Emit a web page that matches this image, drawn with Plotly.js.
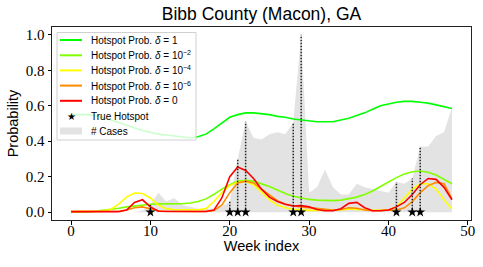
<!DOCTYPE html>
<html>
<head>
<meta charset="utf-8">
<script src="https://cdn.plot.ly/plotly-3.0.1.min.js"></script>
<style>html,body{margin:0;padding:0;background:#fff;}#chart{width:483px;height:267px;}</style>
</head>
<body>
<div id="chart"></div>
<script>
const weeks = Array.from({length: 49}, (_, i) => i);
const cases = [0,0,0,0,0,0,0,0,0,0.01,0.04,0.11,0.06,0.08,0.04,0.03,0.02,0.02,0.02,0.03,0.06,0.30,0.51,0.42,0.41,0.44,0.45,0.44,0.505,1.0,0.11,0.14,0.24,0.14,0.10,0.10,0.16,0.14,0.13,0.12,0.11,0.17,0.16,0.19,0.37,0.37,0.43,0.45,0.59];
const probDelta1 = [0.55,0.55,0.55,0.545,0.535,0.52,0.505,0.49,0.475,0.46,0.45,0.44,0.435,0.43,0.425,0.42,0.425,0.44,0.47,0.505,0.535,0.55,0.56,0.56,0.555,0.55,0.54,0.535,0.525,0.52,0.515,0.51,0.51,0.51,0.52,0.53,0.545,0.56,0.58,0.60,0.61,0.62,0.625,0.625,0.62,0.615,0.605,0.595,0.585];
const probDelta1e2 = [0.0,0.0,0.002,0.005,0.01,0.015,0.022,0.03,0.035,0.042,0.045,0.047,0.047,0.047,0.048,0.052,0.06,0.075,0.10,0.13,0.155,0.175,0.18,0.175,0.16,0.145,0.125,0.105,0.09,0.08,0.072,0.068,0.065,0.065,0.068,0.075,0.085,0.10,0.12,0.145,0.17,0.195,0.215,0.228,0.232,0.225,0.21,0.185,0.16];
const probDelta1e4 = [0.005,0.005,0.005,0.005,0.006,0.015,0.045,0.085,0.108,0.105,0.08,0.04,0.02,0.015,0.013,0.013,0.013,0.02,0.06,0.11,0.15,0.17,0.175,0.155,0.11,0.07,0.04,0.025,0.016,0.012,0.01,0.01,0.01,0.01,0.012,0.018,0.015,0.012,0.011,0.011,0.013,0.03,0.08,0.13,0.16,0.16,0.13,0.07,0.018];
const probDelta1e6 = [0.003,0.003,0.003,0.003,0.003,0.003,0.005,0.012,0.025,0.03,0.02,0.008,0.004,0.004,0.004,0.004,0.004,0.004,0.01,0.04,0.11,0.165,0.175,0.165,0.13,0.095,0.065,0.045,0.035,0.03,0.025,0.018,0.013,0.012,0.015,0.025,0.022,0.012,0.008,0.008,0.01,0.012,0.025,0.06,0.11,0.15,0.168,0.16,0.075];
const probDelta0 = [0.003,0.003,0.003,0.003,0.003,0.003,0.003,0.012,0.055,0.07,0.03,0.005,0.004,0.004,0.004,0.004,0.004,0.004,0.012,0.08,0.2,0.255,0.235,0.19,0.13,0.085,0.06,0.045,0.035,0.037,0.03,0.015,0.008,0.008,0.02,0.05,0.055,0.025,0.008,0.008,0.012,0.03,0.055,0.1,0.155,0.19,0.185,0.14,0.07];
const hotspotWeeks = [10,20,21,22,28,29,41,43,44];
const yTicks = [0,0.2,0.4,0.6,0.8,1.0];
const xTicks = [0,10,20,30,40,50];
const seriesNames = ['Hotspot Prob. <i>δ</i> = 1',
  'Hotspot Prob. <i>δ</i> = 10<sup>−2</sup>',
  'Hotspot Prob. <i>δ</i> = 10<sup>−4</sup>',
  'Hotspot Prob. <i>δ</i> = 10<sup>−6</sup>',
  'Hotspot Prob. <i>δ</i> = 0'];
const colors = ['#00ff00','#80ff00','#ffff00','#ff8c00','#ff0000'];
const probSeries = [probDelta1, probDelta1e2, probDelta1e4, probDelta1e6, probDelta0];

const traces = [];
traces.push({x: weeks, y: cases, type: 'scatter', mode: 'lines', fill: 'tozeroy',
  fillcolor: '#e3e3e3', line: {width: 0, color: '#e3e3e3'}, showlegend: false, hoverinfo: 'skip'});
probSeries.forEach((s, i) => traces.push({x: weeks, y: s, type: 'scatter', mode: 'lines',
  line: {color: colors[i], width: 1.6}, showlegend: false}));
const dx = [], dy = [];
hotspotWeeks.forEach(w => { dx.push(w, w, null); dy.push(0, cases[w], null); });
traces.push({x: dx, y: dy, type: 'scatter', mode: 'lines', line: {color: '#222', width: 1.5, dash: '1.5px,1.5px'}, showlegend: false});
traces.push({x: hotspotWeeks, y: hotspotWeeks.map(() => 0), type: 'scatter', mode: 'markers',
  marker: {symbol: 'star', size: 7.5, color: '#000'}, showlegend: false});

// manual legend (paper coordinates)
const W = 419, H = 193, L = 52, B = 220;
const px = v => (v - L) / W, py = v => (B - v) / H;
const rowsY = [40, 55.3, 70.4, 85.6, 100.8, 116, 131];
const shapes = [{type: 'rect', xref: 'paper', yref: 'paper', x0: px(57), x1: px(196), y0: py(140), y1: py(32.5),
  fillcolor: 'rgba(255,255,255,0.8)', line: {color: '#d0d0d0', width: 1}, layer: 'above'}];
const annotations = [];
colors.forEach((c, i) => {
  shapes.push({type: 'line', xref: 'paper', yref: 'paper', x0: px(60), x1: px(82), y0: py(rowsY[i]), y1: py(rowsY[i]),
    line: {color: c, width: 2}, layer: 'above'});
  annotations.push({xref: 'paper', yref: 'paper', x: px(89), y: py(rowsY[i]), xanchor: 'left', yanchor: 'middle',
    text: seriesNames[i], showarrow: false, font: {family: 'Liberation Sans', size: 10, color: '#000'}});
});
annotations.push({xref: 'paper', yref: 'paper', x: px(71), y: py(rowsY[5]), xanchor: 'center', yanchor: 'middle',
  text: '★', showarrow: false, font: {family: 'DejaVu Sans', size: 10, color: '#000'}});
annotations.push({xref: 'paper', yref: 'paper', x: px(89), y: py(rowsY[5]), xanchor: 'left', yanchor: 'middle',
  text: 'True Hotspot', showarrow: false, font: {family: 'Liberation Sans', size: 10, color: '#000'}});
shapes.push({type: 'rect', xref: 'paper', yref: 'paper', x0: px(60), x1: px(82), y0: py(134.5), y1: py(127.5),
  fillcolor: '#e3e3e3', line: {width: 0}, layer: 'above'});
annotations.push({xref: 'paper', yref: 'paper', x: px(89), y: py(rowsY[6]), xanchor: 'left', yanchor: 'middle',
  text: '# Cases', showarrow: false, font: {family: 'Liberation Sans', size: 10, color: '#000'}});

const layout = {
  width: 483, height: 267,
  margin: {l: 52, r: 12, t: 27, b: 47, pad: 0},
  paper_bgcolor: '#fff', plot_bgcolor: '#fff',
  showlegend: false,
  title: {text: 'Bibb County (Macon), GA', font: {family: 'Liberation Sans', size: 17.5, color: '#000'},
    xref: 'paper', x: 0.5, xanchor: 'center', yref: 'container', y: 1 - 14 / 267, yanchor: 'middle'},
  xaxis: {range: [-2.4, 50.4], tickvals: xTicks, ticks: 'outside', ticklen: 3.5, tickwidth: 1, tickcolor: '#000',
    ticklabelstandoff: -7,
    showline: true, mirror: true, linecolor: '#222', linewidth: 1, showgrid: false, zeroline: false,
    tickfont: {family: 'Liberation Serif', size: 15, color: '#000'},
    title: {text: 'Week index', font: {family: 'Liberation Sans', size: 14.5, color: '#000'}, standoff: 3}},
  yaxis: {range: [-0.044, 1.044], tickvals: yTicks, tickformat: '.1f', ticks: 'outside', ticklen: 3.5, tickwidth: 1, tickcolor: '#000',
    showline: true, mirror: true, linecolor: '#222', linewidth: 1, showgrid: false, zeroline: false,
    tickfont: {family: 'Liberation Serif', size: 15, color: '#000'},
    title: {text: 'Probability', font: {family: 'Liberation Sans', size: 14.5, color: '#000'}, standoff: 3}},
  shapes: shapes, annotations: annotations
};
Plotly.newPlot('chart', traces, layout, {staticPlot: true, displayModeBar: false});
</script>
</body>
</html>
